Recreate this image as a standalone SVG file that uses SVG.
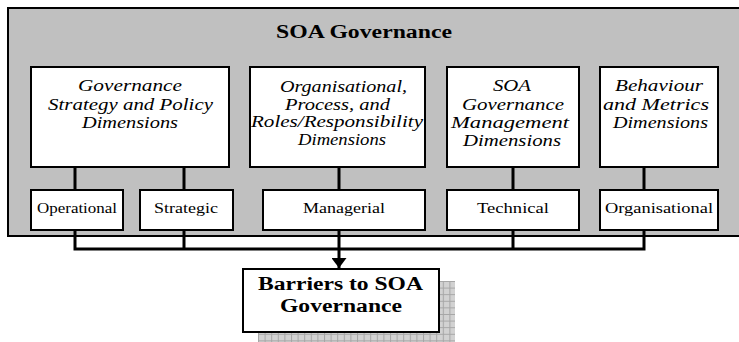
<svg xmlns="http://www.w3.org/2000/svg" width="739" height="342" viewBox="0 0 739 342">
<style>
.box{fill:#fff;stroke:#000;stroke-width:2}
.it{font-family:"Liberation Serif","Times New Roman",serif;font-style:italic;font-size:16px;text-anchor:middle;fill:#000}
.rg{font-family:"Liberation Serif","Times New Roman",serif;font-size:15px;text-anchor:middle;fill:#000}
.bd{font-family:"Liberation Serif","Times New Roman",serif;font-weight:bold;font-size:18.5px;text-anchor:middle;fill:#000}
.ln{fill:none;stroke:#000;stroke-width:3}
</style>
<defs>
<pattern id="grid" width="6.6" height="6.6" patternUnits="userSpaceOnUse" x="258" y="281">
<rect width="6.6" height="6.6" fill="#d2d2d2"/>
<path d="M0 0.5H6.6M0.5 0V6.6" stroke="#a6a6a6" stroke-width="1"/>
</pattern>
<marker id="arr" markerWidth="11" markerHeight="15" refX="10" refY="7.5" orient="auto" markerUnits="userSpaceOnUse" viewBox="0 0 11 15">
<path d="M0 0L10 7.5L0 15Z" fill="#000"/>
</marker>
</defs>
<g id="soa-governance">
<rect x="8" y="8" width="740" height="228" fill="#c0c0c0" stroke="#000" stroke-width="2"/>
<text class="bd" x="364" y="38" textLength="176" lengthAdjust="spacingAndGlyphs">SOA Governance</text>
</g>
<g id="connectors">
<path class="ln" d="M75 167V190M184 167V190M339 167V190M513 167V190M644 167V190"/>
<path class="ln" d="M75 230V249H644V230M184 230V249M513 230V249"/>
<path class="ln" d="M339 230V268" marker-end="url(#arr)"/>
</g>
<g id="dim-strategy">
<rect class="box" x="31" y="67" width="198" height="100"/>
<text class="it" x="130" y="91" textLength="104" lengthAdjust="spacingAndGlyphs">Governance</text>
<text class="it" x="130.5" y="110" textLength="165" lengthAdjust="spacingAndGlyphs">Strategy and Policy</text>
<text class="it" x="130" y="128" textLength="96" lengthAdjust="spacingAndGlyphs">Dimensions</text>
</g>
<g id="dim-organisational">
<rect class="box" x="250" y="67" width="175" height="100"/>
<text class="it" x="343.5" y="92" textLength="127" lengthAdjust="spacingAndGlyphs">Organisational,</text>
<text class="it" x="337.5" y="110" textLength="105" lengthAdjust="spacingAndGlyphs">Process, and</text>
<text class="it" x="337" y="127" textLength="172" lengthAdjust="spacingAndGlyphs">Roles/Responsibility</text>
<text class="it" x="342" y="145" textLength="88" lengthAdjust="spacingAndGlyphs">Dimensions</text>
</g>
<g id="dim-management">
<rect class="box" x="447" y="67" width="132" height="100"/>
<text class="it" x="512" y="91" textLength="38" lengthAdjust="spacingAndGlyphs">SOA</text>
<text class="it" x="513" y="110" textLength="102" lengthAdjust="spacingAndGlyphs">Governance</text>
<text class="it" x="510" y="128" textLength="118" lengthAdjust="spacingAndGlyphs">Management</text>
<text class="it" x="512" y="146" textLength="98" lengthAdjust="spacingAndGlyphs">Dimensions</text>
</g>
<g id="dim-behaviour">
<rect class="box" x="600" y="67" width="118" height="100"/>
<text class="it" x="659" y="91" textLength="88" lengthAdjust="spacingAndGlyphs">Behaviour</text>
<text class="it" x="656" y="110" textLength="106" lengthAdjust="spacingAndGlyphs">and Metrics</text>
<text class="it" x="660.5" y="128" textLength="95" lengthAdjust="spacingAndGlyphs">Dimensions</text>
</g>
<g id="operational">
<rect class="box" x="31" y="190" width="92" height="40"/>
<text class="rg" x="77" y="213" textLength="80" lengthAdjust="spacingAndGlyphs">Operational</text>
</g>
<g id="strategic">
<rect class="box" x="140" y="190" width="93" height="40"/>
<text class="rg" x="186" y="213" textLength="64" lengthAdjust="spacingAndGlyphs">Strategic</text>
</g>
<g id="managerial">
<rect class="box" x="263" y="190" width="162" height="40"/>
<text class="rg" x="344" y="213" textLength="82" lengthAdjust="spacingAndGlyphs">Managerial</text>
</g>
<g id="technical">
<rect class="box" x="447" y="190" width="132" height="40"/>
<text class="rg" x="513" y="213" textLength="72" lengthAdjust="spacingAndGlyphs">Technical</text>
</g>
<g id="organisational">
<rect class="box" x="600" y="190" width="118" height="40"/>
<text class="rg" x="659" y="213" textLength="108" lengthAdjust="spacingAndGlyphs">Organisational</text>
</g>
<g id="barriers">
<path d="M439 281H455V342H258V332H439Z" fill="url(#grid)"/>
<rect class="box" x="243" y="269" width="196" height="63"/>
<text class="bd" x="340.5" y="290" textLength="165" lengthAdjust="spacingAndGlyphs">Barriers to SOA</text>
<text class="bd" x="341" y="312" textLength="122" lengthAdjust="spacingAndGlyphs">Governance</text>
</g>
</svg>
